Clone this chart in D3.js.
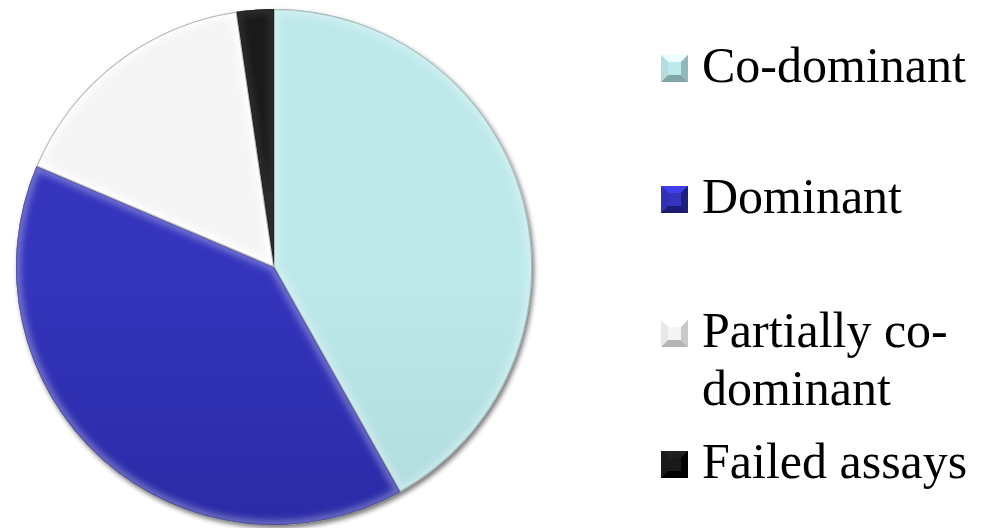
<!DOCTYPE html>
<html>
<head>
<meta charset="utf-8">
<script src="https://cdn.jsdelivr.net/npm/d3@7/dist/d3.min.js"></script>
<style>
  html, body { margin: 0; padding: 0; background: #ffffff; }
  svg { display: block; }
</style>
</head>
<body>
<svg id="chart" width="982" height="528"></svg>
<script>
// Assay outcome counts, drawn clockwise from 12 o'clock
const categories = ["Co-dominant", "Dominant", "Partially co-dominant", "Failed assays"];
const counts = [18, 17, 7, 1];
const legendLines = [["Co-dominant"], ["Dominant"], ["Partially co-", "dominant"], ["Failed assays"]];

// Fill tones: light (top) and dark (bottom) for each slice
const topColors = ["#bee9eb", "#3434bd", "#f5f5f5", "#1a1a1a"];
const bottomColors = ["#a1cdcf", "#21218e", "#e0e0e0", "#000000"];

const svg = d3.select("#chart");
const defs = svg.append("defs");

const cx = 274, cy = 267, r = 258;

// Soft drop shadow under the pie
const shadow = defs.append("filter").attr("id", "shadow")
  .attr("x", "-10%").attr("y", "-10%").attr("width", "120%").attr("height", "120%");
shadow.append("feGaussianBlur").attr("in", "SourceAlpha").attr("stdDeviation", 2.5).attr("result", "b");
shadow.append("feOffset").attr("in", "b").attr("dx", 2).attr("dy", 3).attr("result", "o");
shadow.append("feComponentTransfer").attr("in", "o").attr("result", "s")
  .append("feFuncA").attr("type", "linear").attr("slope", 0.55);
const merge = shadow.append("feMerge");
merge.append("feMergeNode").attr("in", "s");
merge.append("feMergeNode").attr("in", "SourceGraphic");

// Inner blur used for bevel rims
const rimBlur = defs.append("filter").attr("id", "rimblur");
rimBlur.append("feGaussianBlur").attr("stdDeviation", 3);

categories.forEach((c, i) => {
  const g = defs.append("linearGradient").attr("id", "fill" + i)
    .attr("gradientUnits", "userSpaceOnUse")
    .attr("x1", 0).attr("y1", cy - r).attr("x2", 0).attr("y2", cy + r);
  g.append("stop").attr("offset", "0%").attr("stop-color", topColors[i]);
  g.append("stop").attr("offset", "100%").attr("stop-color", bottomColors[i]);
});

const pie = d3.pie().sort(null).value(d => d);
const arcs = pie(counts);
const arc = d3.arc().innerRadius(0).outerRadius(r);

const pieG = svg.append("g").attr("transform", `translate(${cx},${cy})`);

// Shadow / outline layer
pieG.append("circle").attr("r", r).attr("fill", "#9a9a9a").attr("filter", "url(#shadow)");

arcs.forEach((a, i) => {
  const clipId = "clip" + i;
  defs.append("clipPath").attr("id", clipId)
    .append("path").attr("d", arc(a)).attr("transform", `translate(${cx},${cy})`);

  const sg = pieG.append("g");
  sg.append("path").attr("d", arc(a)).attr("fill", `url(#fill${i})`);

  // Bevel: light rim along the slice edges and a dark rim further inside
  const rim = svg.append("g").attr("clip-path", `url(#${clipId})`)
    .append("g").attr("transform", `translate(${cx},${cy})`);
  rim.append("path").attr("d", arc(a))
    .attr("fill", "none")
    .attr("stroke", i === 3 ? "#555" : "#ffffff")
    .attr("stroke-opacity", i === 2 ? 0.9 : 0.3)
    .attr("stroke-width", 10)
    .attr("filter", "url(#rimblur)");
  rim.append("path").attr("d", arc(a))
    .attr("fill", "none")
    .attr("stroke", "#000")
    .attr("stroke-opacity", i === 2 ? 0.28 : 0.2)
    .attr("stroke-width", 2);
});

// Legend
const legend = svg.append("g").attr("font-family", "'Liberation Serif', 'Times New Roman', serif")
  .attr("font-size", 50).attr("fill", "#000");
const rowBase = [82, 213, 347, 478];
const lineStep = 58;
const markerX = 661, markerSize = 27, textX = 702;

legendLines.forEach((lines, i) => {
  const base = rowBase[i];
  const mg = legend.append("g").attr("transform", `translate(${markerX},${base - markerSize})`);
  const s = markerSize, b = 7;
  // pyramid-style bevelled marker
  mg.append("rect").attr("width", s).attr("height", s).attr("fill", bottomColors[i]);
  mg.append("polygon").attr("points", `0,0 ${s},0 ${s - b},${b} ${b},${b}`)
    .attr("fill", d3.color(topColors[i]).brighter(0.6));
  mg.append("polygon").attr("points", `0,${s} ${s},${s} ${s - b},${s - b} ${b},${s - b}`)
    .attr("fill", d3.color(bottomColors[i]).darker(0.6));
  mg.append("polygon").attr("points", `0,0 ${b},${b} ${b},${s - b} 0,${s}`)
    .attr("fill", d3.color(topColors[i]).darker(0.15));
  mg.append("polygon").attr("points", `${s},0 ${s - b},${b} ${s - b},${s - b} ${s},${s}`)
    .attr("fill", d3.color(bottomColors[i]).darker(0.3));
  mg.append("rect").attr("x", b).attr("y", b).attr("width", s - 2 * b).attr("height", s - 2 * b)
    .attr("fill", topColors[i]);

  const t = legend.append("text").attr("x", textX).attr("y", base);
  lines.forEach((ln, j) => {
    t.append("tspan").attr("x", textX).attr("y", base + j * lineStep).text(ln);
  });
});
</script>
</body>
</html>
